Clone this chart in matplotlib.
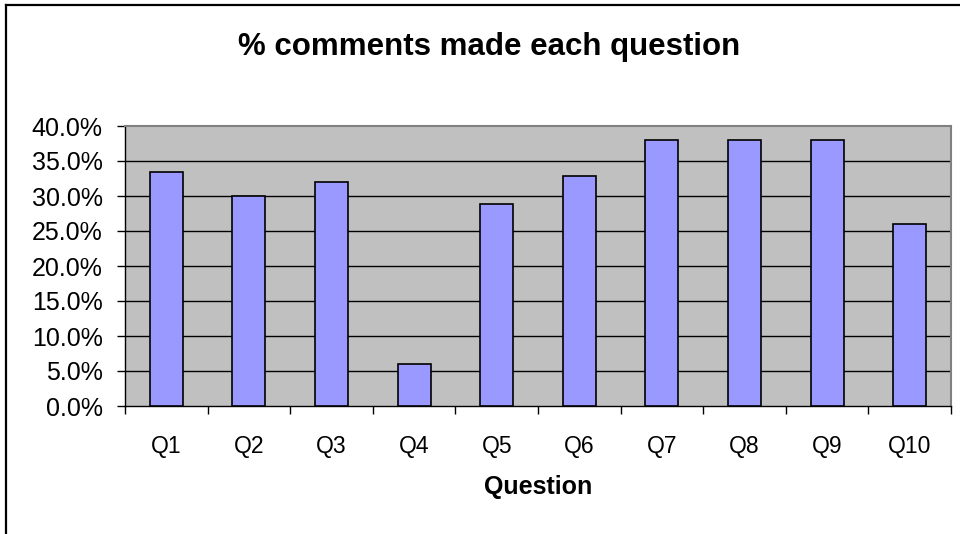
import matplotlib.pyplot as plt
from matplotlib.lines import Line2D
import numpy as np

plt.rcParams['font.family'] = ['Liberation Sans', 'DejaVu Sans']

# share of answers with a comment, per question (percent)
questions = ['Q1', 'Q2', 'Q3', 'Q4', 'Q5', 'Q6', 'Q7', 'Q8', 'Q9', 'Q10']
pct_comments = [33.4, 30.0, 32.0, 6.0, 28.8, 32.8, 38.0, 38.0, 38.0, 26.0]
y_ticks = [0, 5, 10, 15, 20, 25, 30, 35, 40]

W, H = 960, 534
fig = plt.figure(figsize=(W / 100, H / 100), dpi=100)
fig.patch.set_facecolor('white')

# chart frame: left and top edges only show inside the image
fig.add_artist(Line2D([6 / W, 6 / W], [0, 1 - 4.5 / H], transform=fig.transFigure,
                      color='black', linewidth=1.6))
fig.add_artist(Line2D([6 / W, 1], [1 - 4.5 / H, 1 - 4.5 / H], transform=fig.transFigure,
                      color='black', linewidth=1.6))

ax = fig.add_axes([125 / W, 128 / H, 826 / W, 280 / H])
ax.set_facecolor('#c0c0c0')

x = np.arange(len(questions))
ax.bar(x, pct_comments, width=0.4, color='#9999ff', edgecolor='black', linewidth=1.2, zorder=3)

ax.set_xlim(-0.5, len(questions) - 0.5)
ax.set_ylim(0, 40)

# horizontal grid
for v in y_ticks[1:-1]:
    ax.axhline(v, color='black', linewidth=1.0, zorder=1)

ax.set_yticks(y_ticks)
ax.set_yticklabels(['%.1f%%' % v for v in y_ticks], fontsize=18)
ax.tick_params(axis='y', direction='out', length=6, width=1, pad=10)

# category ticks sit between the bars
ax.set_xticks(np.arange(len(questions) + 1) - 0.5)
ax.set_xticklabels([])
ax.set_xticks(x, minor=True)
ax.set_xticklabels(questions, minor=True, fontsize=16.5)
ax.tick_params(axis='x', which='major', direction='out', length=6, width=1)
ax.tick_params(axis='x', which='minor', length=0, pad=21)

for side in ['top', 'right']:
    ax.spines[side].set_color('#808080')
    ax.spines[side].set_linewidth(1.5)
for side in ['left', 'bottom']:
    ax.spines[side].set_color('black')
    ax.spines[side].set_linewidth(1.0)

ax.set_xlabel('Question', fontsize=18, fontweight='bold', labelpad=12)
fig.text(489 / W, 1 - 47 / H, '% comments made each question', ha='center', va='center',
         fontsize=22.5, fontweight='bold')

fig.savefig('out.png', dpi=100)
